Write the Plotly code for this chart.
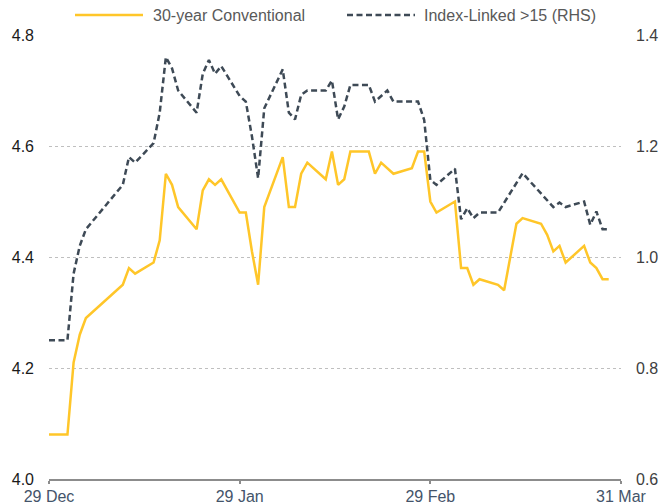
import plotly.graph_objects as go

# 30-year Conventional (left axis, %)
conv_dates = [
    "2023-12-29", "2024-01-01", "2024-01-02", "2024-01-03", "2024-01-04",
    "2024-01-10", "2024-01-11", "2024-01-12", "2024-01-15", "2024-01-16",
    "2024-01-17", "2024-01-18", "2024-01-19", "2024-01-22", "2024-01-23",
    "2024-01-24", "2024-01-25", "2024-01-26", "2024-01-29", "2024-01-30",
    "2024-01-31", "2024-02-01", "2024-02-02", "2024-02-05", "2024-02-06",
    "2024-02-07", "2024-02-08", "2024-02-09", "2024-02-12", "2024-02-13",
    "2024-02-14", "2024-02-15", "2024-02-16", "2024-02-19", "2024-02-20",
    "2024-02-21", "2024-02-23", "2024-02-26", "2024-02-27", "2024-02-28",
    "2024-02-29", "2024-03-01", "2024-03-04", "2024-03-05", "2024-03-06",
    "2024-03-07", "2024-03-08", "2024-03-11", "2024-03-12", "2024-03-14",
    "2024-03-15", "2024-03-18", "2024-03-19", "2024-03-20", "2024-03-21",
    "2024-03-22", "2024-03-25", "2024-03-26", "2024-03-27", "2024-03-28",
    "2024-03-29",
]
conv_values = [
    4.08, 4.08, 4.21, 4.26, 4.29,
    4.35, 4.38, 4.37, 4.39, 4.43,
    4.55, 4.53, 4.49, 4.45, 4.52,
    4.54, 4.53, 4.54, 4.48, 4.48,
    4.41, 4.35, 4.49, 4.58, 4.49,
    4.49, 4.55, 4.57, 4.54, 4.59,
    4.53, 4.54, 4.59, 4.59, 4.55,
    4.57, 4.55, 4.56, 4.59, 4.59,
    4.50, 4.48, 4.50, 4.38, 4.38,
    4.35, 4.36, 4.35, 4.34, 4.46,
    4.47, 4.46, 4.44, 4.41, 4.42,
    4.39, 4.42, 4.39, 4.38, 4.36,
    4.36,
]

# Index-Linked >15 (right axis, %)
il_dates = [
    "2023-12-29", "2024-01-01", "2024-01-02", "2024-01-03", "2024-01-04",
    "2024-01-10", "2024-01-11", "2024-01-12", "2024-01-15", "2024-01-16",
    "2024-01-17", "2024-01-18", "2024-01-19", "2024-01-22", "2024-01-23",
    "2024-01-24", "2024-01-25", "2024-01-26", "2024-01-29", "2024-01-30",
    "2024-01-31", "2024-02-01", "2024-02-02", "2024-02-05", "2024-02-06",
    "2024-02-07", "2024-02-08", "2024-02-09", "2024-02-12", "2024-02-13",
    "2024-02-14", "2024-02-15", "2024-02-16", "2024-02-19", "2024-02-20",
    "2024-02-21", "2024-02-22", "2024-02-23", "2024-02-27", "2024-02-28",
    "2024-02-29", "2024-03-01", "2024-03-04", "2024-03-05", "2024-03-06",
    "2024-03-07", "2024-03-08", "2024-03-11", "2024-03-15", "2024-03-20",
    "2024-03-21", "2024-03-22", "2024-03-25", "2024-03-26", "2024-03-27",
    "2024-03-28", "2024-03-29",
]
il_values = [
    0.85, 0.85, 0.97, 1.02, 1.05,
    1.13, 1.18, 1.17, 1.205, 1.26,
    1.36, 1.34, 1.30, 1.26, 1.33,
    1.355, 1.33, 1.344, 1.29, 1.28,
    1.217, 1.142, 1.268, 1.338, 1.26,
    1.248, 1.292, 1.30, 1.30, 1.318,
    1.248, 1.271, 1.31, 1.31, 1.28,
    1.29, 1.30, 1.28, 1.28, 1.247,
    1.139, 1.13, 1.159, 1.068, 1.088,
    1.07, 1.08, 1.08, 1.151, 1.09,
    1.098, 1.09, 1.10, 1.058, 1.082,
    1.05, 1.05,
]

series_names = ["30-year Conventional", "Index-Linked >15 (RHS)"]
x_tick_vals = ["2023-12-29", "2024-01-29", "2024-02-29", "2024-03-31"]
x_tick_text = ["29 Dec", "29 Jan", "29 Feb", "31 Mar"]
left_ticks = [4.0, 4.2, 4.4, 4.6, 4.8]
right_ticks = [0.6, 0.8, 1.0, 1.2, 1.4]

FONT = "Liberation Sans, Arial, sans-serif"
YELLOW = "#FFC629"
DARK = "#3E4A56"
DASH = "6px,3.5px"

W, H = 659, 504
ML, MR, MT, MB = 49, 38, 35, 25
PW, PH = W - ML - MR, H - MT - MB


def px(x):
    return (x - ML) / PW


def py(y):
    return (H - MB - y) / PH


fig = go.Figure()
fig.add_trace(go.Scatter(
    x=conv_dates, y=conv_values, name=series_names[0],
    mode="lines", line=dict(color=YELLOW, width=2.5), yaxis="y",
))
fig.add_trace(go.Scatter(
    x=il_dates, y=il_values, name=series_names[1],
    mode="lines", line=dict(color=DARK, width=2.5, dash=DASH), yaxis="y2",
))

# custom legend (swatches + labels) above the plot
legend_y = py(15)
shapes = [
    dict(type="line", xref="paper", yref="paper", x0=px(75), x1=px(143),
         y0=legend_y, y1=legend_y, line=dict(color=YELLOW, width=2.5)),
    dict(type="line", xref="paper", yref="paper", x0=px(347), x1=px(415),
         y0=legend_y, y1=legend_y, line=dict(color=DARK, width=2.5, dash=DASH)),
]
annotations = [
    dict(text=series_names[0], xref="paper", yref="paper", x=px(151), y=legend_y,
         xanchor="left", yanchor="middle", showarrow=False,
         font=dict(size=16, color="#595959")),
    dict(text=series_names[1], xref="paper", yref="paper", x=px(422), y=legend_y,
         xanchor="left", yanchor="middle", showarrow=False,
         font=dict(size=16, color="#595959")),
]

fig.update_layout(
    width=W, height=H,
    margin=dict(l=ML, r=MR, t=MT, b=MB, autoexpand=False),
    paper_bgcolor="white", plot_bgcolor="white",
    font=dict(family=FONT, size=16, color="#595959"),
    showlegend=False,
    shapes=shapes, annotations=annotations,
    xaxis=dict(
        type="date", range=["2023-12-29", "2024-03-31"],
        tickmode="array", tickvals=x_tick_vals, ticktext=x_tick_text,
        showgrid=False, zeroline=False,
        showline=True, linecolor="#8C8C8C", linewidth=1.5,
        ticks="outside", ticklen=3, tickcolor="#8C8C8C", tickwidth=1.5,
        ticklabelstandoff=-1,
        tickfont=dict(size=16, color="#44546A"),
    ),
    yaxis=dict(
        range=[4.0, 4.8], tickmode="array", tickvals=left_ticks,
        tickformat=".1f", showgrid=True, gridcolor="#BFBFBF", griddash="dot",
        gridwidth=1, zeroline=False, showline=False, ticks="",
        ticklabelstandoff=14, tickfont=dict(size=16, color="#1A1A1A"),
    ),
    yaxis2=dict(
        range=[0.6, 1.4], overlaying="y", side="right", tickmode="array",
        tickvals=right_ticks, tickformat=".1f", showgrid=False, zeroline=False,
        showline=False, ticks="", ticklabelstandoff=14,
        tickfont=dict(size=16, color="#404040"),
    ),
)

fig.write_html(
    "out.html",
    config={"displayModeBar": False},
    post_script="document.body.style.margin='0px';document.body.style.overflow='hidden';",
)
